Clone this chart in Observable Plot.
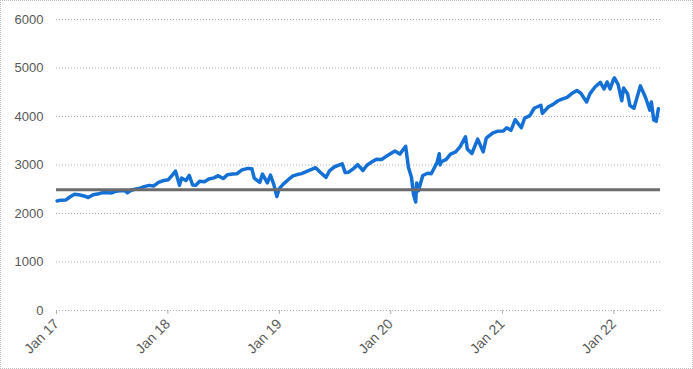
<!DOCTYPE html>
<html>
<head>
<meta charset="utf-8">
<script src="https://cdn.jsdelivr.net/npm/d3@7"></script>
<script src="https://cdn.jsdelivr.net/npm/@observablehq/plot@0.6"></script>
<style>
  html, body { margin: 0; padding: 0; background: #fff; }
  #chart svg { display: block; outline: 1px dotted #bdbdbd; outline-offset: -1px; }
</style>
</head>
<body>
<div id="chart"></div>
<script>
const dates = [
  "2017-01-03","2017-01-15","2017-02-01","2017-02-15","2017-03-01","2017-03-15","2017-04-01","2017-04-15","2017-05-01","2017-05-15","2017-06-01","2017-06-15","2017-07-01","2017-07-15","2017-08-01","2017-08-15","2017-08-21","2017-09-01","2017-09-15","2017-10-01","2017-10-15","2017-11-01","2017-11-15","2017-12-01","2017-12-15",
  "2018-01-02","2018-01-15","2018-01-26","2018-02-08","2018-02-15","2018-03-01","2018-03-12","2018-03-23","2018-04-02","2018-04-15","2018-05-01","2018-05-15","2018-06-01","2018-06-15","2018-07-01","2018-07-15","2018-08-01","2018-08-15","2018-09-01","2018-09-20","2018-10-03","2018-10-11","2018-10-29","2018-11-07","2018-11-23","2018-12-03","2018-12-14","2018-12-24","2018-12-31",
  "2019-01-15","2019-02-01","2019-02-15","2019-03-01","2019-03-15","2019-04-01","2019-04-15","2019-04-30","2019-05-15","2019-06-03","2019-06-15","2019-07-01","2019-07-26","2019-08-05","2019-08-15","2019-09-01","2019-09-15","2019-10-02","2019-10-15","2019-11-01","2019-11-15","2019-12-02","2019-12-15","2019-12-31",
  "2020-01-15","2020-01-31","2020-02-19","2020-02-28","2020-03-09","2020-03-16","2020-03-23","2020-03-26","2020-04-01","2020-04-15","2020-05-01","2020-05-13","2020-06-01","2020-06-08","2020-06-11","2020-06-15","2020-07-01","2020-07-15","2020-08-01","2020-08-15","2020-09-02","2020-09-08","2020-09-23","2020-10-12","2020-10-30","2020-11-09","2020-11-15","2020-12-01","2020-12-15",
  "2021-01-04","2021-01-15","2021-01-29","2021-02-12","2021-03-04","2021-03-15","2021-04-01","2021-04-15","2021-05-07","2021-05-12","2021-06-01","2021-06-15","2021-07-01","2021-07-15","2021-08-01","2021-08-15","2021-09-02","2021-09-15","2021-10-04","2021-10-15","2021-11-01","2021-11-18","2021-11-30","2021-12-10","2021-12-20","2021-12-31",
  "2022-01-03","2022-01-15","2022-01-27","2022-02-02","2022-02-15","2022-02-23","2022-03-08","2022-03-29","2022-04-15","2022-04-29","2022-05-04","2022-05-12","2022-05-20","2022-05-27"
];
const values = [
  2258,2275,2280,2345,2395,2385,2362,2330,2388,2400,2430,2432,2425,2460,2475,2465,2428,2475,2500,2520,2555,2580,2565,2640,2675,
  2695,2785,2872,2581,2730,2680,2785,2588,2582,2665,2655,2710,2735,2780,2720,2800,2815,2820,2900,2930,2925,2728,2641,2813,2633,2790,2600,2351,2507,
  2610,2707,2775,2803,2822,2867,2905,2945,2850,2744,2886,2964,3025,2844,2848,2926,3007,2887,2995,3066,3120,3113,3168,3230,
  3289,3225,3386,2954,2746,2386,2237,2630,2470,2783,2830,2820,3055,3232,3002,3066,3115,3226,3271,3372,3580,3331,3237,3534,3270,3550,3585,3662,3694,
  3700,3768,3714,3934,3768,3968,4019,4170,4232,4063,4202,4246,4320,4360,4395,4468,4537,4480,4300,4471,4613,4704,4567,4712,4568,4766,
  4796,4662,4326,4589,4471,4225,4170,4631,4392,4132,4300,3930,3901,4158
];
const referenceLevel = [2490];
const yTicks = [0, 1000, 2000, 3000, 4000, 5000, 6000];
const xTicks = ["2017-01-01","2018-01-01","2019-01-01","2020-01-01","2021-01-01","2022-01-01"];

const data = dates.map((d, i) => ({date: new Date(d + "T00:00:00Z"), value: values[i]}));
const xTickDates = xTicks.map(d => new Date(d + "T00:00:00Z"));
const fmt = d3.utcFormat("%b %y");

const chart = Plot.plot({
  width: 693,
  height: 369,
  marginLeft: 56,
  marginRight: 33,
  marginTop: 19,
  marginBottom: 59,
  style: {fontFamily: "'Liberation Sans', Arial, sans-serif", fontSize: "13px", color: "#595959", background: "#fff"},
  x: {type: "utc", domain: [new Date("2017-01-01T00:00:00Z"), new Date("2022-06-03T00:00:00Z")]},
  y: {domain: [0, 6000]},
  marks: [
    Plot.gridY(yTicks, {stroke: "#b0b0b0", strokeOpacity: 1, strokeDasharray: "1,2"}),
    Plot.axisY(yTicks, {tickSize: 0, tickPadding: 13, tickFormat: d => String(d), label: null, fill: "#595959", fontSize: 13}),
    Plot.axisX(xTickDates, {tickSize: 4, stroke: "#b0b0b0", tickFormat: fmt, tickRotate: -45, tickPadding: 7, label: null, fill: "#595959", fontSize: 14}),
    Plot.line(data, {x: "date", y: "value", stroke: "#1570d6", strokeWidth: 3.5, curve: "linear"}),
    Plot.ruleY(referenceLevel, {stroke: "#6b6b6b", strokeWidth: 3})
  ]
});
document.getElementById("chart").append(chart);
</script>
</body>
</html>
